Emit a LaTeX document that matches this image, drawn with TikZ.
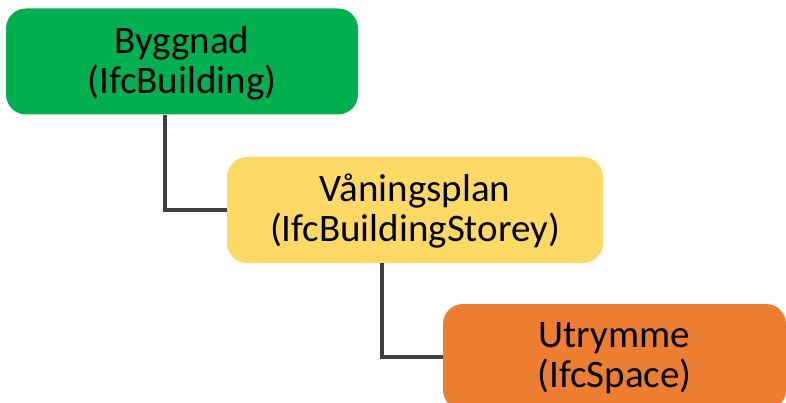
\documentclass[tikz,border=0pt]{standalone}
\usepackage{fontspec}
\setmainfont{Carlito}
\usepackage{tikz}
\usetikzlibrary{calc}
\definecolor{cbyg}{HTML}{00B050}
\definecolor{cvan}{HTML}{FFD966}
\definecolor{cutr}{HTML}{ED7D31}
\definecolor{cline}{HTML}{404040}
\begin{document}
\begin{tikzpicture}[x=1pt, y=-1pt,
  box/.style={rounded corners=20pt, align=center, inner sep=0pt, minimum height=106pt,
    text depth=4pt, font=\fontsize{39}{40}\selectfont, text=black},
  link/.style={draw=cline, line width=4.5pt}]
\useasboundingbox (0,0) rectangle (786,403);
\node[box, fill=cbyg, minimum width=352pt] (byggnad) at (182,61.5) {Byggnad\\(IfcBuilding)};
\node[box, fill=cvan, minimum width=376pt] (vaning) at (415,210) {Våningsplan\\(IfcBuildingStorey)};
\node[box, fill=cutr, minimum width=343pt] (utrymme) at (614.5,357) {Utrymme\\(IfcSpace)};
\draw[link] ([xshift=-17pt]byggnad.south) |- (vaning.west);
\draw[link] ([xshift=-33pt]vaning.south) |- (utrymme.west);
\end{tikzpicture}
\end{document}
